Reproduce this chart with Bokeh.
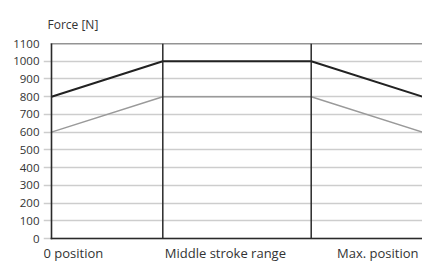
from bokeh.plotting import figure
from bokeh.models import Range1d, FixedTicker, Title
from bokeh.core.properties import value
from bokeh.embed import file_html
from bokeh.resources import INLINE

# Data
stroke_x = [0, 30, 70, 100]
upper_force = [800, 1000, 1000, 800]
lower_force = [600, 800, 800, 600]
y_ticks = list(range(0, 1101, 100))
x_dividers = [30, 70]
x_labels = ["0 position", "Middle stroke range", "Max. position"]
x_label_pos = [0, 30, 100]
y_title = "Force [N]"

# Layout / style (pixels)
W, H = 422, 262
CANVAS_L = 43        # frame left (tick labels to its left)
PLOT_L = 51          # left border of the chart box
TICK_L = 45          # where the tick marks start
PLOT_T = 43
PLOT_B = 238
x_label_align = ["left", "left", "right"]
x_label_offset = [-8, 2, -4]
FONT = "Open Sans"
TXT = "#333333"
DARK = "#2a2a2a"

X_MIN, X_MAX = stroke_x[0], stroke_x[-1]
Y_MIN, Y_MAX = y_ticks[0], y_ticks[-1]
px_x = (X_MAX - X_MIN) / (W - PLOT_L)
px_y = (Y_MAX - Y_MIN) / (PLOT_B - PLOT_T)

p = figure(width=W, height=H, output_backend="svg", toolbar_location=None,
           x_range=Range1d(X_MIN - (PLOT_L - CANVAS_L) * px_x, X_MAX),
           y_range=Range1d(Y_MIN - (H - PLOT_B) * px_y, Y_MAX),
           x_axis_location=None,
           min_border_left=CANVAS_L, min_border_right=0, min_border_top=PLOT_T,
           min_border_bottom=0)

p.title = Title(text=y_title, align="left", offset=4, standoff=22,
                text_font=FONT, text_font_size="12px", text_font_style="normal",
                text_color=TXT)

p.background_fill_color = "white"
p.border_fill_color = "white"
p.outline_line_color = None

p.xgrid.visible = False
p.ygrid.ticker = FixedTicker(ticks=y_ticks)
p.ygrid.grid_line_color = "#cdcdcd"
p.ygrid.grid_line_width = 1.6
p.ygrid.bounds = (X_MIN - (PLOT_L - TICK_L) * px_x, X_MAX)

ax = p.yaxis[0]
ax.ticker = FixedTicker(ticks=y_ticks)
ax.axis_line_color = None
ax.major_tick_line_color = None
ax.major_tick_out = 0
ax.major_tick_in = 0
ax.minor_tick_line_color = None
ax.major_label_standoff = 4
ax.major_label_text_font = FONT
ax.major_label_text_font_size = "11.5px"
ax.major_label_text_color = TXT

# data lines
p.line(stroke_x, lower_force, line_color="#9a9a9a", line_width=1.5)
p.line(stroke_x, upper_force, line_color="#222222", line_width=2)

# chart box (left, top, bottom) and section dividers
p.segment(x0=[X_MIN, X_MIN, X_MIN], y0=[Y_MIN, Y_MAX, Y_MIN],
          x1=[X_MIN, X_MAX, X_MAX], y1=[Y_MAX, Y_MAX, Y_MIN],
          line_color=DARK, line_width=1.6, line_cap="square")
p.segment(x0=x_dividers, y0=[Y_MIN] * len(x_dividers),
          x1=x_dividers, y1=[Y_MAX] * len(x_dividers),
          line_color=DARK, line_width=1.5)

# category labels under the box
p.text(x=x_label_pos, y=[Y_MIN] * len(x_label_pos), text=x_labels,
       text_align=x_label_align, x_offset=x_label_offset, y_offset=14,
       text_baseline="alphabetic", text_font=value(FONT), text_font_size="13px",
       text_color=TXT)

open("out.html", "w").write(file_html(p, INLINE))
